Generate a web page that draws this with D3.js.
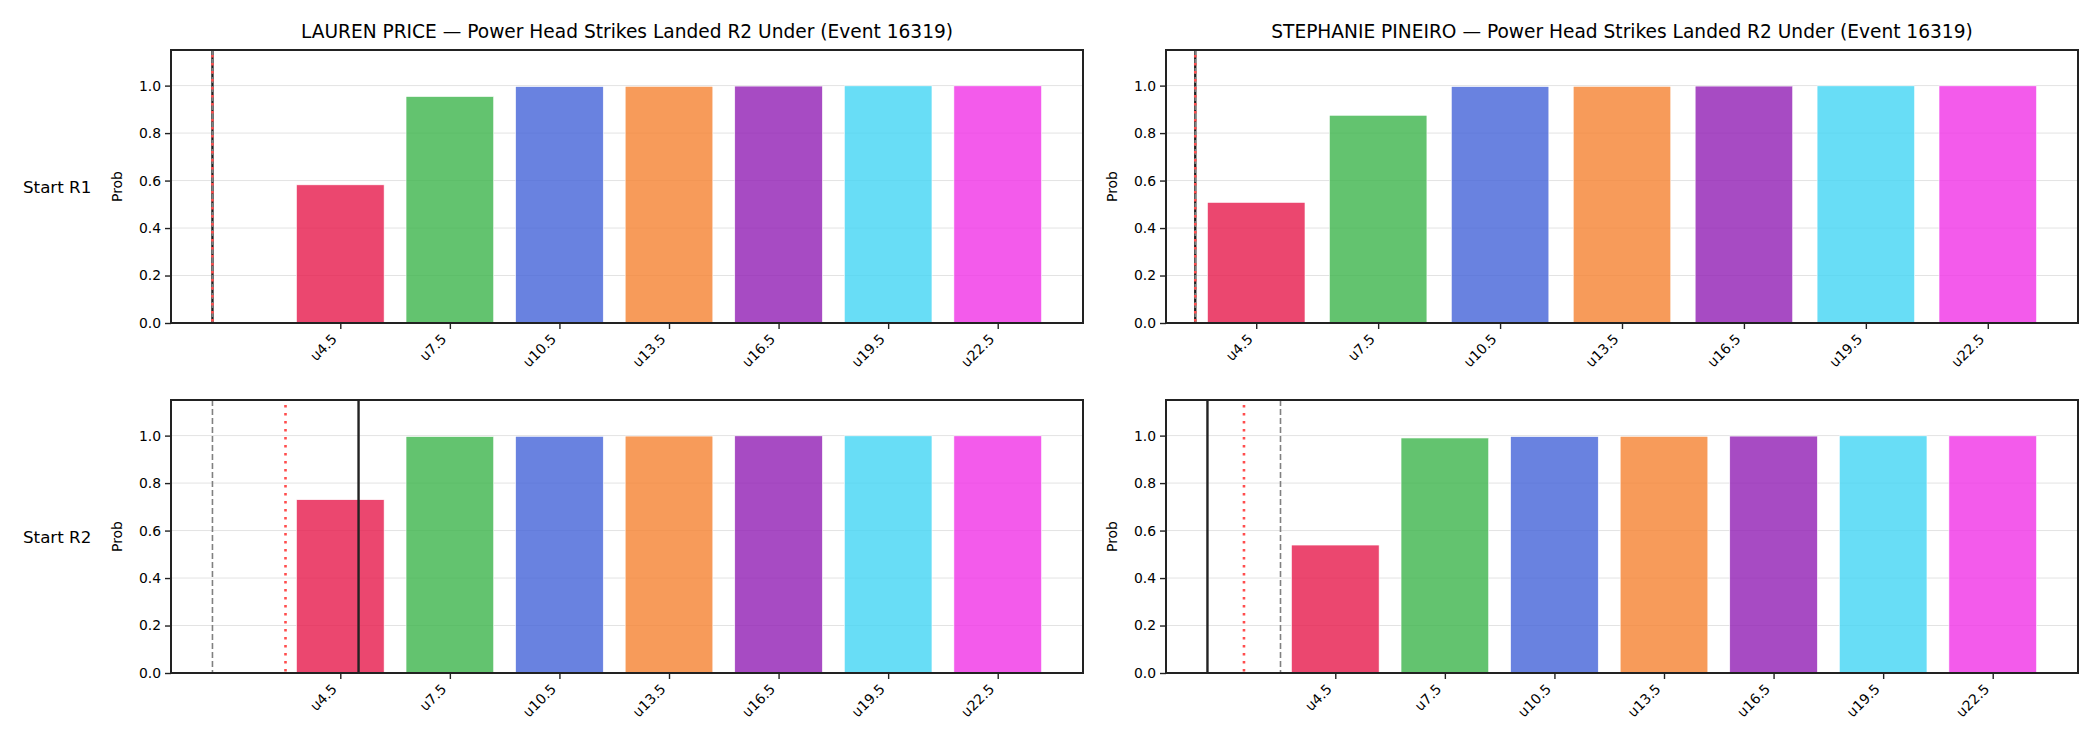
<!DOCTYPE html>
<html>
<head>
<meta charset="utf-8">
<script src="https://cdn.jsdelivr.net/npm/d3@7"></script>
<style>
  body { margin: 0; background: #fff; }
  text { font-family: "DejaVu Sans", sans-serif; fill: #000; }
</style>
</head>
<body>
<div id="chart"></div>
<script>
// categorias (linhas de under) e paleta das barras
const categorias = ["u4.5", "u7.5", "u10.5", "u13.5", "u16.5", "u19.5", "u22.5"];
const cores = ["#e6194b", "#3cb44b", "#4363d8", "#f58231", "#911eb4", "#42d4f4", "#f032e6"];
const lutadores = ["LAUREN PRICE", "STEPHANIE PINEIRO"];
const rotulosLinha = ["Start R1", "Start R2"];
const tituloSufixo = " — Power Head Strikes Landed R2 Under (Event 16319)";
const ticksY = [0, 0.2, 0.4, 0.6, 0.8, 1.0];

// probabilidades
const probPriceR1 = [0.582, 0.954, 0.996, 0.997, 0.998, 0.999, 0.999];
const probPineiroR1 = [0.508, 0.875, 0.996, 0.997, 0.998, 0.999, 0.999];
const probPriceR2 = [0.730, 0.996, 0.997, 0.998, 0.999, 0.999, 0.999];
const probPineiroR2 = [0.539, 0.990, 0.996, 0.997, 0.998, 0.999, 0.999];

// linhas verticais (em golpes): atual (preta), projecao (vermelha), anterior (cinza)
const atualPrice = [1, 5];
const projPrice = [1, 3];
const anteriorPrice = [1, 1];
const atualPineiro = [3, 1];
const projPineiro = [3, 2];
const anteriorPineiro = [3, 3];

const largura = 2100, altura = 750;
const colunas = [{left: 171, right: 1083}, {left: 1166, right: 2078}];
const linhas = [{top: 50, bottom: 323}, {top: 400, bottom: 673}];

const svg = d3.select("#chart").append("svg")
    .attr("width", largura)
    .attr("height", altura);

// valores de linha -> posicao no eixo categorico
const limiares = categorias.map(c => parseFloat(c.slice(1)));
const passo = limiares[1] - limiares[0];
const posicao = v => (v - limiares[0]) / passo;

// limites x no estilo do matplotlib (margem de 5%)
function limitesX(posLinhas) {
    let lo = -0.4, hi = categorias.length - 1 + 0.4;
    const m = 0.05 * (hi - lo);
    let vlo = lo - m, vhi = hi + m;
    if (posLinhas.some(p => p < vlo || p > vhi)) {
        lo = Math.min(lo, ...posLinhas);
        hi = Math.max(hi, ...posLinhas);
        const m2 = 0.05 * (hi - lo);
        vlo = lo - m2; vhi = hi + m2;
    }
    return [vlo, vhi];
}

const paineis = [
    {r: 0, c: 0, probs: probPriceR1, atual: atualPrice[0], proj: projPrice[0], ant: anteriorPrice[0]},
    {r: 0, c: 1, probs: probPineiroR1, atual: atualPineiro[0], proj: projPineiro[0], ant: anteriorPineiro[0]},
    {r: 1, c: 0, probs: probPriceR2, atual: atualPrice[1], proj: projPrice[1], ant: anteriorPrice[1]},
    {r: 1, c: 1, probs: probPineiroR2, atual: atualPineiro[1], proj: projPineiro[1], ant: anteriorPineiro[1]}
];

paineis.forEach(p => {
    const col = colunas[p.c], lin = linhas[p.r];
    const pos = [posicao(p.atual), posicao(p.proj), posicao(p.ant)];
    const eixoX = d3.scaleLinear().domain(limitesX(pos)).range([col.left, col.right]);
    const eixoY = d3.scaleLinear().domain([0, 1.15]).range([lin.bottom, lin.top]);
    const g = svg.append("g");

    // grade horizontal
    g.selectAll(".grade").data(ticksY).join("line")
        .attr("x1", col.left).attr("x2", col.right)
        .attr("y1", d => eixoY(d)).attr("y2", d => eixoY(d))
        .attr("stroke", "#e3e3e3").attr("stroke-width", 1);

    // barras
    const largBarra = eixoX(0.8) - eixoX(0);
    g.selectAll(".barra").data(p.probs).join("rect")
        .attr("x", (d, i) => eixoX(i - 0.4))
        .attr("y", d => eixoY(d))
        .attr("width", largBarra)
        .attr("height", d => eixoY(0) - eixoY(d))
        .attr("fill", (d, i) => cores[i])
        .attr("fill-opacity", 0.8)
        .attr("stroke", "#fff").attr("stroke-width", 0.6);

    // linhas verticais
    g.append("line")
        .attr("x1", eixoX(pos[0])).attr("x2", eixoX(pos[0]))
        .attr("y1", lin.top).attr("y2", lin.bottom)
        .attr("stroke", "#222").attr("stroke-width", 2.4);
    g.append("line")
        .attr("x1", eixoX(pos[2])).attr("x2", eixoX(pos[2]))
        .attr("y1", lin.top).attr("y2", lin.bottom)
        .attr("stroke", "#808080").attr("stroke-width", 1.6)
        .attr("stroke-dasharray", "6,3");
    g.append("line")
        .attr("x1", eixoX(pos[1])).attr("x2", eixoX(pos[1]))
        .attr("y1", lin.top + 5).attr("y2", lin.bottom)
        .attr("stroke", "#ff4d4d").attr("stroke-width", 2.6)
        .attr("stroke-dasharray", "2.6,5.4");

    // eixo y
    const ay = g.append("g")
        .attr("transform", `translate(${col.left},0)`)
        .call(d3.axisLeft(eixoY).tickValues(ticksY).tickFormat(d3.format(".1f")).tickSize(6).tickPadding(4));
    ay.select(".domain").remove();
    ay.selectAll(".tick line").attr("stroke", "#222").attr("stroke-width", 1.4);
    ay.selectAll("text").attr("font-size", "13.9px").attr("font-family", "DejaVu Sans");

    // eixo x
    const ax = g.append("g")
        .attr("transform", `translate(0,${lin.bottom})`)
        .call(d3.axisBottom(eixoX).tickValues(d3.range(categorias.length)).tickFormat(i => categorias[i]).tickSize(6));
    ax.select(".domain").remove();
    ax.selectAll(".tick line").attr("stroke", "#222").attr("stroke-width", 1.4);
    ax.selectAll("text")
        .attr("font-size", "13.9px").attr("font-family", "DejaVu Sans")
        .attr("text-anchor", "end")
        .attr("dy", null).attr("y", null)
        .attr("transform", "translate(-3,17) rotate(-45)");

    // moldura
    g.append("rect")
        .attr("x", col.left).attr("y", lin.top)
        .attr("width", col.right - col.left).attr("height", lin.bottom - lin.top)
        .attr("fill", "none").attr("stroke", "#222").attr("stroke-width", 2);

    // rotulo do eixo y
    g.append("text")
        .attr("transform", `translate(${col.left - 49},${(lin.top + lin.bottom) / 2}) rotate(-90)`)
        .attr("text-anchor", "middle")
        .attr("font-size", "13.9px")
        .text("Prob");

    if (p.r === 0) {
        g.append("text")
            .attr("x", (col.left + col.right) / 2).attr("y", 38)
            .attr("text-anchor", "middle")
            .attr("font-size", "18.6px")
            .text(lutadores[p.c] + tituloSufixo);
    }
    if (p.c === 0) {
        g.append("text")
            .attr("x", 23).attr("y", (lin.top + lin.bottom) / 2 + 6)
            .attr("font-size", "16.7px")
            .text(rotulosLinha[p.r]);
    }
});
</script>
</body>
</html>
